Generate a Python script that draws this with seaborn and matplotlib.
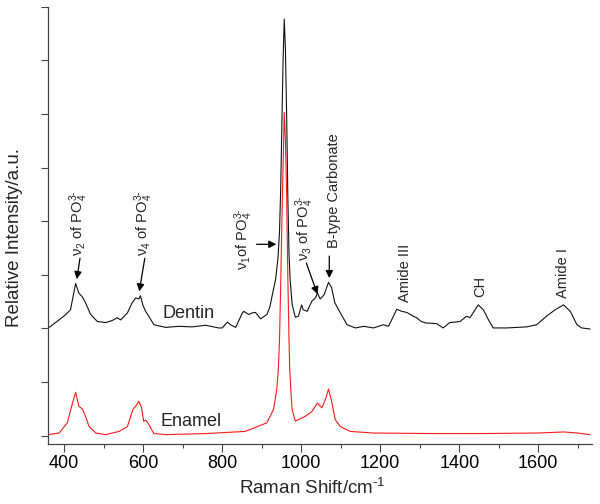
import pandas as pd
import seaborn as sns
from matplotlib import pyplot as plt

# values (Raman shift in cm-1, relative intensity)
dentin_shift = [360, 387, 404, 416, 429, 437, 446, 454, 467, 484, 505, 522, 534, 543,
                560, 572, 581, 589, 593, 599, 606, 614, 627, 657, 690, 724, 758, 791,
                800, 813, 821, 834, 851, 855, 867, 876, 884, 897, 913, 921, 926, 935,
                941, 945, 948, 951, 954, 957, 960, 963, 966, 969, 972, 977, 985, 993,
                1001, 1005, 1015, 1027, 1036, 1041, 1048, 1058, 1069, 1077, 1085, 1099,
                1116, 1137, 1158, 1183, 1208, 1221, 1242, 1254, 1267, 1283, 1292, 1304,
                1317, 1325, 1343, 1359, 1376, 1402, 1419, 1427, 1448, 1461, 1474, 1486,
                1520, 1571, 1596, 1621, 1643, 1664, 1681, 1698, 1710, 1731]
dentin_intensity = [2.01, 2.16, 2.26, 2.35, 2.84, 2.66, 2.59, 2.48, 2.26, 2.13, 2.11, 2.15,
                    2.20, 2.16, 2.29, 2.48, 2.57, 2.55, 2.61, 2.44, 2.32, 2.23, 2.07, 2.02,
                    2.04, 2.03, 2.06, 2.01, 2.01, 2.12, 2.07, 2.02, 2.29, 2.32, 2.26, 2.29,
                    2.30, 2.18, 2.26, 2.41, 2.60, 2.91, 3.30, 3.80, 4.60, 5.80, 7.00, 7.77,
                    7.20, 6.00, 4.50, 3.40, 2.90, 2.45, 2.21, 2.23, 2.44, 2.35, 2.32, 2.51,
                    2.57, 2.66, 2.55, 2.63, 2.86, 2.76, 2.48, 2.29, 2.07, 2.01, 2.04, 2.01,
                    2.07, 2.04, 2.36, 2.32, 2.30, 2.23, 2.20, 2.13, 2.10, 2.10, 2.09, 2.01,
                    2.11, 2.13, 2.23, 2.20, 2.44, 2.35, 2.16, 2.01, 2.01, 2.03, 2.07, 2.23,
                    2.35, 2.44, 2.32, 2.07, 2.01, 1.99]

enamel_shift = [360, 387, 408, 421, 429, 437, 446, 454, 463, 480, 505, 539, 560, 574, 581,
                589, 596, 601, 607, 614, 627, 657, 760, 858, 913, 930, 938, 942, 945, 948,
                951, 954, 957, 960, 963, 966, 969, 971, 974, 977, 985, 993, 1010, 1027,
                1041, 1052, 1061, 1069, 1077, 1086, 1099, 1124, 1183, 1335, 1450, 1600,
                1664, 1700, 1731]
enamel_intensity = [0.02, 0.05, 0.24, 0.61, 0.81, 0.55, 0.50, 0.36, 0.17, 0.05, 0.02, 0.08,
                    0.17, 0.49, 0.55, 0.64, 0.52, 0.27, 0.29, 0.21, 0.04, 0.02, 0.04, 0.08,
                    0.24, 0.49, 0.86, 1.23, 1.80, 2.80, 4.00, 5.00, 6.03, 5.50, 4.50, 3.00,
                    1.80, 1.23, 0.80, 0.49, 0.27, 0.30, 0.36, 0.45, 0.61, 0.52, 0.67, 0.87,
                    0.64, 0.30, 0.17, 0.08, 0.05, 0.04, 0.04, 0.05, 0.07, 0.05, 0.02]

x_ticks = [400, 600, 800, 1000, 1200, 1400, 1600]

dentin_df = pd.DataFrame({"shift": dentin_shift, "intensity": dentin_intensity})
enamel_df = pd.DataFrame({"shift": enamel_shift, "intensity": enamel_intensity})

sns.set_style("ticks")
plt.rcParams["font.family"] = ["Liberation Sans", "DejaVu Sans"]
plt.rcParams["mathtext.fontset"] = "custom"
plt.rcParams["mathtext.rm"] = "Liberation Sans"
plt.rcParams["mathtext.it"] = "Liberation Sans:italic"
plt.rcParams["mathtext.bf"] = "Liberation Sans:bold"

fig = plt.figure(figsize=(6, 5.04), dpi=100)
ax = fig.add_axes([0.08, 0.1185, 0.906, 0.868])

sns.lineplot(data=dentin_df, x="shift", y="intensity", color="#111111",
             linewidth=0.8, estimator=None, sort=False, ax=ax)
sns.lineplot(data=enamel_df, x="shift", y="intensity", color="#ff1a1a",
             linewidth=0.8, estimator=None, sort=False, ax=ax)

ax.set_xlim(359, 1735)
ax.set_ylim(-0.16, 8)
ax.set_xticks(x_ticks)
ax.set_xticks(range(500, 1735, 200), minor=True)
ax.set_yticks(range(0, 9))
ax.set_yticklabels([])
ax.tick_params(axis="x", which="major", length=6, width=0.8, pad=2,
               labelsize=13, colors="#444444", labelcolor="black")
ax.tick_params(axis="x", which="minor", length=3, width=0.8, colors="#444444")
ax.tick_params(axis="y", length=5, width=0.8, colors="#444444")
sns.despine(ax=ax)
for s in ["left", "bottom"]:
    ax.spines[s].set_color("#444444")
    ax.spines[s].set_linewidth(0.9)

ax.set_xlabel("Raman Shift/cm$^{\\text{-}1}$", fontsize=13.5)
ax.set_ylabel("Relative Intensity/a.u.", fontsize=13.5)
ax.xaxis.set_label_coords(0.486, -0.078)
ax.yaxis.set_label_coords(-0.046, 0.473)

# peak labels with arrows
arrow = dict(arrowstyle="-|>", color="black", lw=0.9,
             mutation_scale=11, shrinkA=0, shrinkB=0)
lab = dict(rotation=90, ha="center", va="bottom", fontsize=10.5)
po4 = " PO$_4^{3\\text{-}}$"
ax.text(437, 3.36, "ν$_2$ of" + po4, **lab)
ax.annotate("", xy=(432, 2.92), xytext=(440, 3.31), arrowprops=arrow)
ax.text(601, 3.36, "ν$_4$ of" + po4, **lab)
ax.annotate("", xy=(590, 2.69), xytext=(604, 3.31), arrowprops=arrow)
ax.text(854, 3.1, "ν$_1$of" + po4, **lab)
ax.annotate("", xy=(937, 3.57), xytext=(887, 3.57), arrowprops=arrow)
ax.text(1010, 3.25, "ν$_3$ of" + po4, **lab)
ax.annotate("", xy=(1041, 2.64), xytext=(1013, 3.22), arrowprops=arrow)
ax.text(1082, 3.5, "B-type Carbonate", **lab)
ax.annotate("", xy=(1071, 2.94), xytext=(1071, 3.35), arrowprops=arrow)
ax.text(1263, 2.49, "Amide III", **lab)
ax.text(1453, 2.58, "CH", **lab)
ax.text(1663, 2.57, "Amide I", **lab)

ax.text(650, 2.27, "Dentin", fontsize=13, va="center", ha="left")
ax.text(644, 0.27, "Enamel", fontsize=13, va="center", ha="left")

fig.savefig("out.png", dpi=100)
